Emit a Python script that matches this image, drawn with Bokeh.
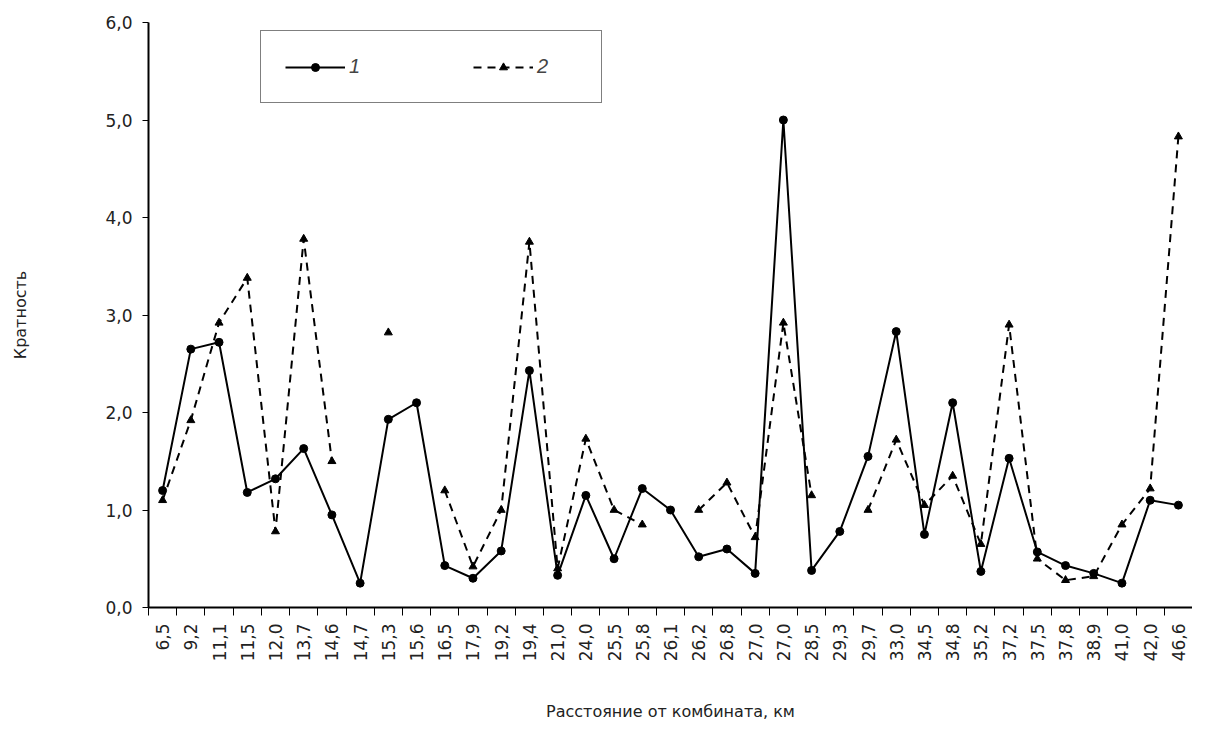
import numpy as np
from bokeh.plotting import figure
from bokeh.models import FixedTicker, Range1d, Legend, LegendItem
from bokeh.embed import file_html
from bokeh.resources import INLINE

labels = ["6,5","9,2","11,1","11,5","12,0","13,7","14,6","14,7","15,3","15,6","16,5","17,9","19,2","19,4",
          "21,0","24,0","25,5","25,8","26,1","26,2","26,8","27,0","27,0","28,5","29,3","29,7","33,0","34,5",
          "34,8","35,2","37,2","37,5","37,8","38,9","41,0","42,0","46,6"]
s1 = [1.2,2.65,2.72,1.18,1.32,1.63,0.95,0.25,1.93,2.1,0.43,0.3,0.58,2.43,0.33,1.15,0.5,1.22,1.0,0.52,0.6,0.35,
      5.0,0.38,0.78,1.55,2.83,0.75,2.1,0.37,1.53,0.57,0.43,0.35,0.25,1.1,1.05]
nan = float("nan")
s2 = [1.1,1.92,2.92,3.38,0.78,3.78,1.5,nan,2.82,nan,1.2,0.42,1.0,3.75,0.4,1.73,1.0,0.85,nan,1.0,1.28,0.72,
      2.92,1.15,nan,1.0,1.72,1.05,1.35,0.65,2.9,0.5,0.28,0.32,0.85,1.22,4.83]
x = list(range(len(labels)))

p = figure(width=1192, height=729, output_backend="svg", toolbar_location=None,
           x_range=Range1d(-0.5, len(labels)-0.5), y_range=Range1d(0, 6),
           min_border_left=148, min_border_right=0, min_border_top=22, min_border_bottom=122)
p.outline_line_color = None
p.xgrid.visible = False
p.ygrid.visible = False

l1 = p.line(x, s1, line_color="black", line_width=2)
c1 = p.scatter(x, s1, marker="circle", size=8, color="black")
l2 = p.line(x, s2, line_color="black", line_width=2, line_dash="8 6")
c2 = p.scatter(x, s2, marker="triangle", size=8, color="black")

p.xaxis.ticker = FixedTicker(ticks=x, minor_ticks=[i-0.5 for i in range(len(labels)+1)])
p.xaxis.major_label_overrides = {i: l for i, l in enumerate(labels)}
p.xaxis.major_label_orientation = np.pi/2
p.xaxis.major_tick_out = 0
p.xaxis.major_tick_in = 0
p.xaxis.minor_tick_out = 8
p.xaxis.minor_tick_in = 0
p.xaxis.major_label_standoff = 8
p.xaxis.axis_label = "Расстояние от комбината, км"
p.xaxis.axis_label_standoff = 38

p.yaxis.ticker = FixedTicker(ticks=[0,1,2,3,4,5,6], minor_ticks=[])
p.yaxis.major_label_overrides = {i: f"{i},0" for i in range(7)}
p.yaxis.major_tick_out = 6
p.yaxis.major_tick_in = 0
p.yaxis.major_label_standoff = 10
p.yaxis.axis_label = "Кратность"
p.yaxis.axis_label_standoff = 72

for ax in (p.xaxis[0], p.yaxis[0]):
    ax.axis_line_width = 2
    ax.axis_line_color = "black"
    ax.major_label_text_font = "DejaVu Sans"
    ax.major_label_text_font_size = "17px"
    ax.major_label_text_color = "#222222"
    ax.axis_label_text_font = "DejaVu Sans"
    ax.axis_label_text_font_size = "16px"
    ax.axis_label_text_font_style = "normal"
    ax.axis_label_text_color = "#222222"
p.xaxis.minor_tick_line_width = 1

legend = Legend(items=[LegendItem(label="1", renderers=[l1, c1]), LegendItem(label="2", renderers=[l2, c2])],
                orientation="horizontal", location=(112, 504), border_line_color="black", border_line_width=1,
                label_text_font_style="italic", label_text_font_size="20px", glyph_width=60, label_width=40,
                padding=24, spacing=84, margin=0, label_standoff=4)
p.add_layout(legend)

open("out.html", "w").write(file_html(p, INLINE))
